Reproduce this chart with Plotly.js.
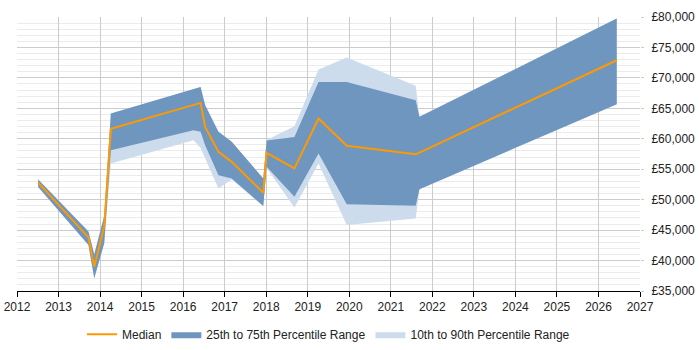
<!DOCTYPE html>
<html>
<head>
<meta charset="utf-8">
<script src="https://cdn.plot.ly/plotly-3.0.1.min.js"></script>
<style>
  html, body { margin: 0; padding: 0; background: #fff; }
  #chart { width: 700px; height: 350px; }
</style>
</head>
<body>
<div id="chart"></div>
<script>
// Salary percentiles over time (decimal years)
const years = [2012.51, 2013.72, 2013.86, 2014.10, 2014.26, 2016.25, 2016.42, 2016.53,
               2016.85, 2017.17, 2017.93, 2018.01, 2018.68, 2019.26, 2019.94, 2021.60,
               2021.69, 2026.44];
const p90 = [53300, 44770, 41000, 47300, 64150, 68160, 68520, 65520,
             61140, 59500, 53490, 59800, 62070, 71370, 73340, 68700,
             63600, 79740];
const p75 = [53300, 44770, 41000, 47300, 64150, 68160, 68520, 65520,
             61140, 59500, 53490, 59700, 60310, 69340, 69340, 66330,
             63600, 79740];
const median = [52800, 43810, 39000, 45600, 61630, 65540, 65890, 61950,
                57850, 56210, 51130, 57690, 55130, 63330, 58840, 57480,
                57730, 72900];
const p25 = [52100, 42550, 37100, 42830, 58130, 61410, 61140, 58950,
             54030, 53490, 48950, 55400, 50470, 57590, 49230, 49000,
             51700, 65680];
const p10 = [52100, 42550, 37100, 42830, 55950, 59770, 58500, 57030,
             51850, 53300, 48950, 55200, 48730, 55950, 45830, 46900,
             51700, 65680];

const yearTicks = [2012, 2013, 2014, 2015, 2016, 2017, 2018, 2019, 2020,
                   2021, 2022, 2023, 2024, 2025, 2026, 2027];

// closed polygon: upper edge left-to-right, lower edge back right-to-left
function band(upper, lower) {
  return {
    x: years.concat(years.slice().reverse()),
    y: upper.concat(lower.slice().reverse())
  };
}

const outer = band(p90, p10);
const inner = band(p75, p25);

const traces = [
  {
    x: outer.x, y: outer.y, type: 'scatter', mode: 'lines',
    fill: 'toself', fillcolor: '#cddcec', line: { width: 0, color: '#cddcec' },
    name: '10th to 90th Percentile Range', legendrank: 3, hoverinfo: 'skip'
  },
  {
    x: inner.x, y: inner.y, type: 'scatter', mode: 'lines',
    fill: 'toself', fillcolor: '#6f96bf', line: { width: 0, color: '#6f96bf' },
    name: '25th to 75th Percentile Range', legendrank: 2, hoverinfo: 'skip'
  },
  {
    x: years, y: median, type: 'scatter', mode: 'lines',
    line: { color: '#ff9900', width: 2 },
    name: 'Median', legendrank: 1
  }
];

const font = { family: '"Liberation Sans", Arial, sans-serif', size: 12, color: '#222' };

const layout = {
  width: 700, height: 350,
  margin: { l: 17, r: 60, t: 17, b: 59 },
  paper_bgcolor: '#fff', plot_bgcolor: '#fff',
  font: font,
  showlegend: true,
  legend: {
    orientation: 'h', x: 0.5, xanchor: 'center',
    yref: 'container', y: 0.045, yanchor: 'middle',
    font: font, itemwidth: 30, traceorder: 'normal'
  },
  xaxis: {
    range: [2012, 2027],
    tickvals: yearTicks, ticktext: yearTicks.map(String),
    showgrid: true, gridcolor: '#cccccc', gridwidth: 1,
    showline: true, linecolor: '#000', linewidth: 1,
    ticks: 'outside', ticklen: 5, tickcolor: '#000',
    zeroline: false, tickfont: font, fixedrange: true
  },
  yaxis: {
    range: [35000, 80000], side: 'right',
    dtick: 5000, tick0: 35000, tickprefix: '£', tickformat: ',d',
    showgrid: true, gridcolor: '#cccccc', gridwidth: 1,
    minor: { dtick: 1000, showgrid: true, gridcolor: '#ebebeb', gridwidth: 1 },
    ticks: 'outside', ticklen: 3, tickcolor: '#cccccc', ticklabelstandoff: 5,
    showline: false, zeroline: false, tickfont: font, fixedrange: true
  }
};

Plotly.newPlot('chart', traces, layout, { displayModeBar: false, staticPlot: true });
</script>
</body>
</html>
